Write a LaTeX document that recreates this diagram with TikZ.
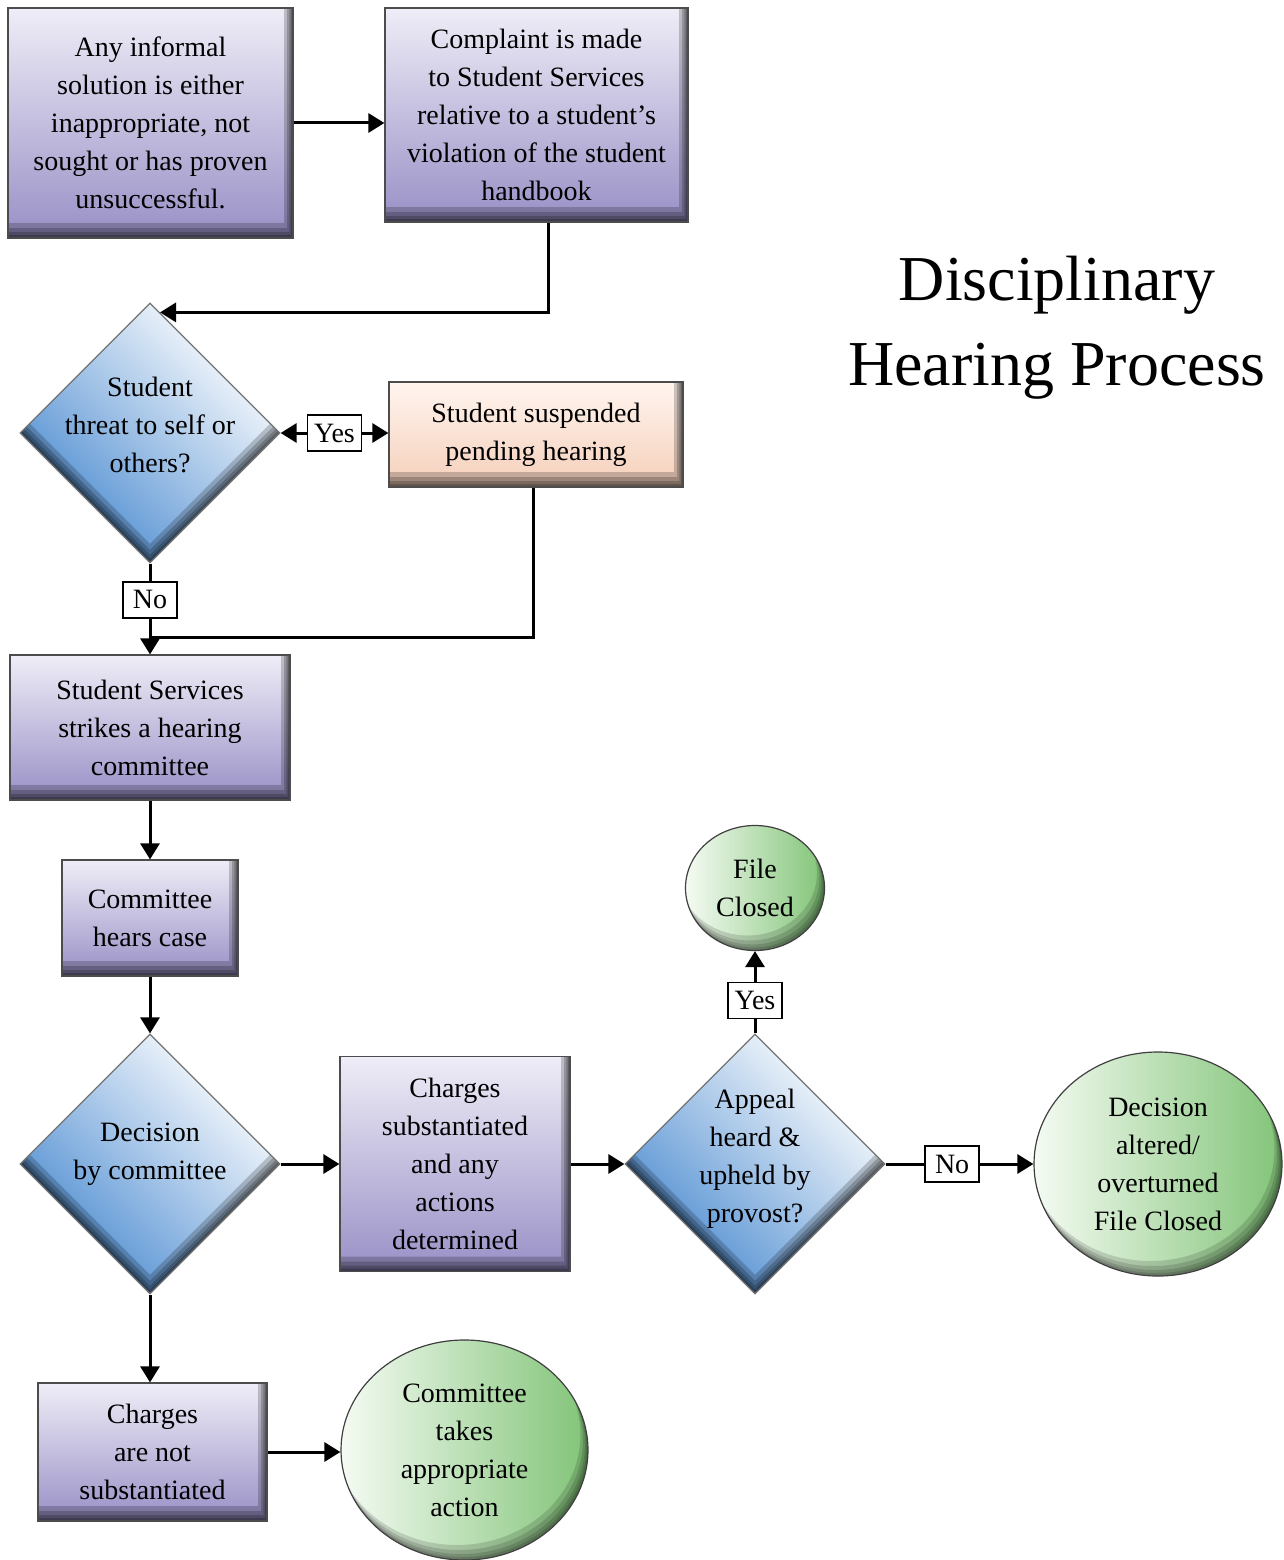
\documentclass[tikz,border=0pt]{standalone}
\usepackage{fontspec}
\setmainfont{Liberation Serif}
\usetikzlibrary{shapes.geometric, arrows.meta, calc}

\definecolor{procTop}{HTML}{EFEDF7}
\definecolor{procBot}{HTML}{9890C6}
\definecolor{peachTop}{HTML}{FFF5EF}
\definecolor{peachBot}{HTML}{F5CFBA}
\definecolor{decBlue}{HTML}{4A8AD0}
\definecolor{termLeft}{HTML}{F5FBF3}
\definecolor{termRight}{HTML}{82C478}

\tikzset{
  boxbevel/.style={path picture={
    \foreach \s in {3,6,10,15}
      \fill[black, opacity=0.2, even odd rule]
        (path picture bounding box.south west) rectangle (path picture bounding box.north east)
        ([shift={(-0.6*\s pt,\s pt)}]path picture bounding box.south west) rectangle
        ([shift={(-0.6*\s pt,\s pt)}]path picture bounding box.north east);
  }},
  diabevel/.style={path picture={
    \foreach \s in {4,8,13,19}
      \fill[black, opacity=0.2, even odd rule]
        (path picture bounding box.south west) rectangle (path picture bounding box.north east)
        ([yshift=\s pt]path picture bounding box.north) -- ([yshift=\s pt]path picture bounding box.east)
        -- ([yshift=\s pt]path picture bounding box.south) -- ([yshift=\s pt]path picture bounding box.west) -- cycle;
  }},
  ellbevel/.style={path picture={
    \foreach \s in {3,6,10,15}
      \fill[black, opacity=0.14, even odd rule]
        let \p1 = ($(path picture bounding box.north east)-(path picture bounding box.center)$) in
        (path picture bounding box.south west) rectangle (path picture bounding box.north east)
        ([shift={(-0.5*\s pt,\s pt)}]path picture bounding box.center) ellipse [x radius=\x1, y radius=\y1];
  }},
  process/.style={rectangle, draw=black!70, line width=1.2pt, top color=procTop, bottom color=procBot,
    align=center, inner sep=4pt, boxbevel},
  suspend/.style={process, top color=peachTop, bottom color=peachBot},
  decision/.style={diamond, draw=black!55, line width=1.2pt, top color=white, bottom color=decBlue,
    shading angle=-45, minimum width=260pt, minimum height=260pt, inner sep=0pt, diabevel},
  dtext/.style={align=center},
  terminal/.style={ellipse, draw=black!75, line width=1.2pt, left color=termLeft, right color=termRight,
    align=center, inner sep=0pt, ellbevel},
  tag/.style={draw, line width=1.5pt, fill=white, inner sep=3pt, minimum width=54pt, minimum height=36pt,
    font=\fontsize{28}{30}\selectfont},
  flow/.style={line width=3pt},
  heading/.style={align=center, font=\fontsize{64}{85}\selectfont}
}

\begin{document}
\begin{tikzpicture}[x=1pt, y=-1pt, >={Triangle[length=16pt, width=19pt]}, font=\fontsize{28}{38}\selectfont]

\useasboundingbox (0,0) rectangle (1284,1560);

% --- title
\node[heading] (title) at (1057,328) {Disciplinary\\Hearing Process};

% --- complaint
\node[process, minimum width=285pt, minimum height=230pt] (informal) at (150.5,123)
  {Any informal\\solution is either\\inappropriate, not\\sought or has proven\\unsuccessful.};
\node[process, minimum width=303pt, minimum height=214pt] (complaint) at (536.5,115)
  {Complaint is made\\to Student Services\\relative to a student's\\violation of the student\\handbook};

% --- threat check
\node[decision, label={[dtext, yshift=8pt]center:Student\\threat to self or\\others?}] (threat) at (150,433) {};
\node[suspend, minimum width=294pt, minimum height=105pt] (suspended) at (536,434.5)
  {Student suspended\\pending hearing};

% --- committee
\node[process, minimum width=280pt, minimum height=145pt] (strikes) at (150,727.5)
  {Student Services\\strikes a hearing\\committee};
\node[process, minimum width=176pt, minimum height=116pt] (hears) at (150,918)
  {Committee\\hears case};
\node[decision, label={[dtext, yshift=10pt]center:Decision\\by committee}] (decision) at (150,1164) {};
\node[process, minimum width=230pt, minimum height=215pt] (charges) at (455,1164)
  {Charges\\substantiated\\and any\\actions\\determined};
\node[process, minimum width=229pt, minimum height=138pt] (notsub) at (152.5,1452)
  {Charges\\are not\\substantiated};
\node[terminal, minimum width=247pt, minimum height=220pt] (action) at (464.5,1450)
  {Committee\\takes\\appropriate\\action};

% --- appeal
\node[decision, label={[dtext, yshift=5pt]center:Appeal\\heard \&\\upheld by\\provost?}] (appeal) at (755,1164) {};
\node[terminal, minimum width=139pt, minimum height=125pt] (closed) at (755,888) {File\\Closed};
\node[terminal, minimum width=248pt, minimum height=224pt] (overturned) at (1158,1164)
  {Decision\\altered/\\overturned\\File Closed};

% --- connectors
\coordinate (threatin) at ([shift={(10pt,-10pt)}]threat.north);
\coordinate (join) at ([yshift=17pt]strikes.north);

\draw[->, flow] (informal.east) -- (informal.east -| complaint.west);
\draw[->, flow] ([xshift=12pt]complaint.south) |- (threatin);
\draw[<->, flow] (threat.east) -- node[tag]{Yes} (threat.east -| suspended.west);
\draw[->, flow] (threat.south) -- node[tag, pos=0.4]{No} (strikes.north);
\draw[flow] ([xshift=-3pt]suspended.south) |- (join);

\draw[->, flow] (strikes.south) -- (hears.north);
\draw[->, flow] (hears.south) -- (decision.north);
\draw[->, flow] (decision.east) -- (charges.west);
\draw[->, flow] (charges.east) -- (appeal.west);
\draw[->, flow] (decision.south) -- (decision.south |- notsub.north);
\draw[->, flow] (notsub.east) -- (notsub.east -| action.west);

\draw[->, flow] (appeal.north) -- node[tag, pos=0.4]{Yes} (closed.south);
\draw[->, flow] (appeal.east) -- node[tag, pos=0.45]{No} (overturned.west);

\end{tikzpicture}
\end{document}
